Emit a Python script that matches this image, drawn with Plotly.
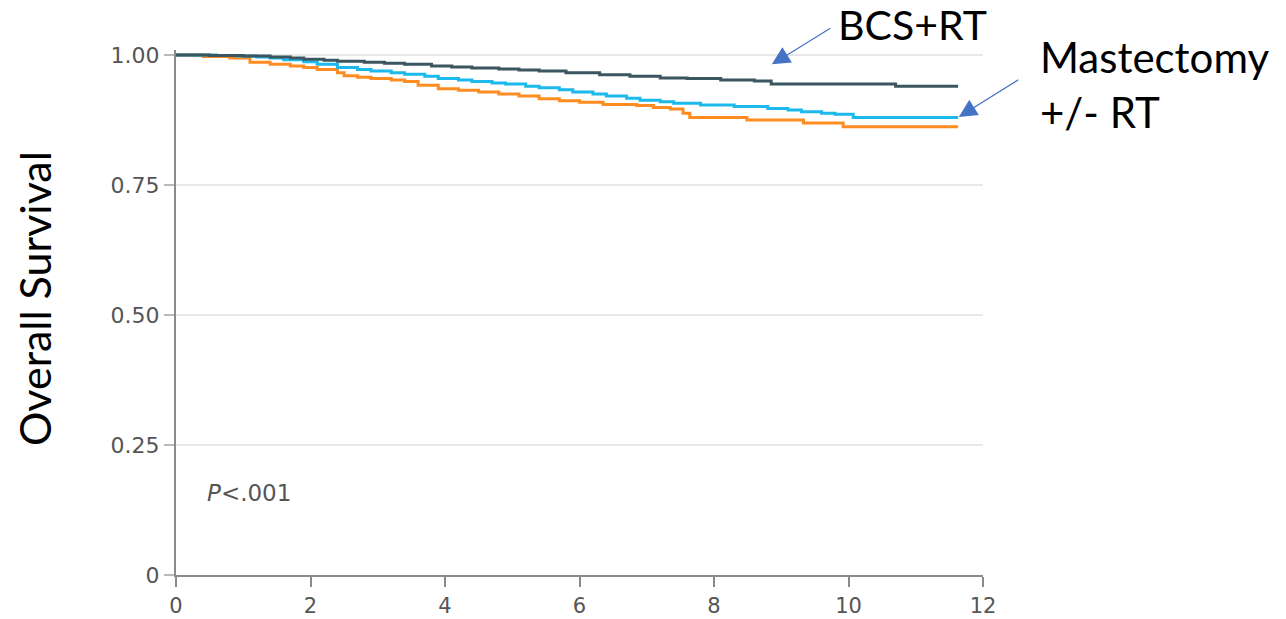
import plotly.graph_objects as go

# Kaplan-Meier step data (years, overall survival)
bcs_t = [0, 0.5, 1.0, 1.4, 1.7, 1.9, 2.2, 2.4, 2.8, 3.1, 3.4, 3.8, 4.1, 4.4, 4.8, 5.1, 5.4, 5.8,
         6.3, 6.75, 7.2, 7.6, 8.1, 8.6, 8.85, 10.7, 11.63]
bcs_s = [1.0, 0.999, 0.998, 0.996, 0.994, 0.992, 0.99, 0.988, 0.986, 0.984, 0.982, 0.979, 0.977,
         0.975, 0.973, 0.971, 0.969, 0.966, 0.962, 0.959, 0.956, 0.955, 0.952, 0.950, 0.944, 0.940, 0.940]

mast_t = [0, 0.6, 0.9, 1.2, 1.4, 1.6, 1.9, 2.1, 2.4, 2.7, 2.9, 3.2, 3.4, 3.7, 3.9, 4.2, 4.4, 4.7,
          4.9, 5.2, 5.4, 5.7, 5.9, 6.2, 6.4, 6.7, 6.9, 7.2, 7.4, 7.8, 8.3, 8.8, 9.1, 9.3, 9.6, 9.8,
          10.07, 11.63]
mast_s = [1.0, 0.999, 0.998, 0.996, 0.994, 0.991, 0.987, 0.982, 0.976, 0.972, 0.969, 0.966, 0.963,
          0.959, 0.955, 0.952, 0.949, 0.946, 0.944, 0.94, 0.937, 0.933, 0.929, 0.925, 0.921, 0.917,
          0.913, 0.910, 0.907, 0.904, 0.901, 0.897, 0.894, 0.891, 0.888, 0.886, 0.880, 0.880]

third_t = [0, 0.4, 0.8, 1.1, 1.4, 1.7, 1.9, 2.1, 2.4, 2.5, 2.7, 2.9, 3.2, 3.4, 3.6, 3.9, 4.2, 4.5,
           4.8, 5.1, 5.4, 5.7, 6.0, 6.35, 6.85, 7.1, 7.35, 7.54, 7.64, 8.49, 9.33, 9.92, 11.63]
third_s = [1.0, 0.997, 0.994, 0.986, 0.982, 0.979, 0.976, 0.972, 0.966, 0.960, 0.957, 0.955, 0.952,
           0.949, 0.942, 0.935, 0.932, 0.929, 0.925, 0.921, 0.916, 0.912, 0.909, 0.905, 0.903, 0.899,
           0.896, 0.888, 0.880, 0.875, 0.869, 0.862, 0.862]

x_ticks = [0, 2, 4, 6, 8, 10, 12]
y_ticks = [0, 0.25, 0.5, 0.75, 1.0]
y_tick_text = ["0", "0.25", "0.50", "0.75", "1.00"]

fig = go.Figure()
fig.add_trace(go.Scatter(x=third_t, y=third_s, mode="lines", line=dict(color="#ff8c21", width=3, shape="hv"),
                         name="Other", showlegend=False))
fig.add_trace(go.Scatter(x=mast_t, y=mast_s, mode="lines", line=dict(color="#1cb9ec", width=3, shape="hv"),
                         name="Mastectomy +/- RT", showlegend=False))
fig.add_trace(go.Scatter(x=bcs_t, y=bcs_s, mode="lines", line=dict(color="#3a5660", width=3, shape="hv"),
                         name="BCS+RT", showlegend=False))

label_font = dict(family="Lato, 'Noto Sans', sans-serif", size=42, color="#000000")

fig.add_annotation(x=8.86, y=0.982, xref="x", yref="y", ax=60, ay=-37, text="",
                   showarrow=True, arrowhead=2, arrowsize=3, arrowwidth=1.2, arrowcolor="#4472c4", standoff=0)
fig.add_annotation(x=11.64, y=0.881, xref="x", yref="y", ax=61, ay=-38, text="",
                   showarrow=True, arrowhead=2, arrowsize=3, arrowwidth=1.2, arrowcolor="#4472c4", standoff=0)

fig.add_annotation(x=912, y=25, xref="paper", yref="paper", text="BCS+RT", showarrow=False,
                   font=dict(family="Lato, 'Noto Sans', sans-serif", size=41, color="#000000"),
                   xanchor="center", yanchor="middle")
fig.add_annotation(x=1038, y=84, xref="paper", yref="paper", text="Mastectomy<br>+/- RT", showarrow=False,
                   font=label_font, xanchor="left", yanchor="middle", align="left")
fig.add_annotation(x=34, y=299, xref="paper", yref="paper", text="Overall Survival", showarrow=False,
                   font=dict(family="Lato, 'Noto Sans', sans-serif", size=43, color="#000000"),
                   textangle=-90, xanchor="center", yanchor="middle")
fig.add_annotation(x=0.43, y=0.157, xref="x", yref="y", text="<i>P</i><.001", showarrow=False,
                   font=dict(family="DejaVu Sans", size=23, color="#555555"), xanchor="left", yanchor="middle")

# convert pixel-positioned paper annotations
W, H = 1286, 619
ml, mr, mt, mb = 176, 303, 50, 44
pw, ph = W - ml - mr, H - mt - mb
for a in fig.layout.annotations:
    if a.xref == "paper":
        a.x = (a.x - ml) / pw
        a.y = 1 - (a.y - mt) / ph

fig.update_layout(
    width=W, height=H,
    margin=dict(l=ml, r=mr, t=mt, b=mb, autoexpand=False),
    plot_bgcolor="#ffffff", paper_bgcolor="#ffffff",
    font=dict(family="DejaVu Sans", size=20, color="#555555"),
)
fig.update_xaxes(range=[0, 12], tickvals=x_ticks, ticks="outside", ticklen=10, tickcolor="#8a8a8a",
                 tickwidth=1.5, showline=True, linecolor="#8a8a8a", linewidth=2, showgrid=False,
                 zeroline=False, tickfont=dict(size=21, color="#555555"), ticklabelstandoff=1,
                 automargin=False)
fig.update_yaxes(range=[0, 1.009615], tickvals=y_ticks, ticktext=y_tick_text, ticks="outside", ticklen=10,
                 tickcolor="#bbbbbb", tickwidth=1.5, showline=True, linecolor="#8a8a8a", linewidth=2,
                 showgrid=True, gridcolor="#e8e8e8", gridwidth=2, zeroline=False,
                 tickfont=dict(size=22, color="#555555"), automargin=False)

fig.write_html("out.html", config={"displayModeBar": False},
               post_script="document.body.style.margin='0';")
